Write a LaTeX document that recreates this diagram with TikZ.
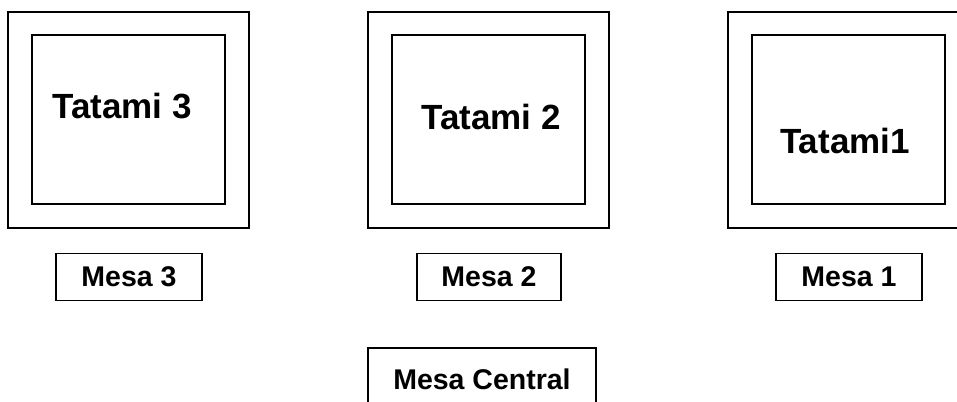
\documentclass[tikz,border=0pt]{standalone}
\usepackage{fontspec}
\setmainfont{Liberation Sans}
\usetikzlibrary{positioning}

\begin{document}
\begin{tikzpicture}[x=1pt, y=-1pt, line width=1.5pt,
    tatamitext/.style={font=\bfseries\fontsize{35}{40}\selectfont},
    mesabox/.style={draw, line width=1.5pt, inner sep=0pt, minimum height=47pt,
        font=\bfseries\fontsize{28.5}{32}\selectfont}]
            % page frame
            \useasboundingbox (0,0) rectangle (957,401);
            \clip (0,0) rectangle (957,401);

            % tatamis: outer and inner squares
            \draw (8,12) rectangle (249,228);
            \draw (32,35) rectangle (225,204);
            \draw (368,12) rectangle (609,228);
            \draw (392,35) rectangle (585,204);
            \draw (728,12) rectangle (969,228);
            \draw (752,35) rectangle (945,204);

            \node[tatamitext] (tatami3) at (122,106) {Tatami 3};
            \node[tatamitext] (tatami2) at (491,117) {Tatami 2};
            \node[tatamitext] (tatami1) at (845,141) {Tatami1};

            % tables
            \node[mesabox, minimum width=146pt] (mesa3) at (129,277) {\raisebox{-3pt}{Mesa 3}};
            \node[mesabox, minimum width=144pt] (mesa2) at (489,277) {\raisebox{-3pt}{Mesa 2}};
            \node[mesabox, minimum width=146pt] (mesa1) at (849,277) {\raisebox{-3pt}{Mesa 1}};
            \node[mesabox, minimum width=228pt, minimum height=62pt] (central) at (482,379) {Mesa Central};
        \end{tikzpicture}
\end{document}
